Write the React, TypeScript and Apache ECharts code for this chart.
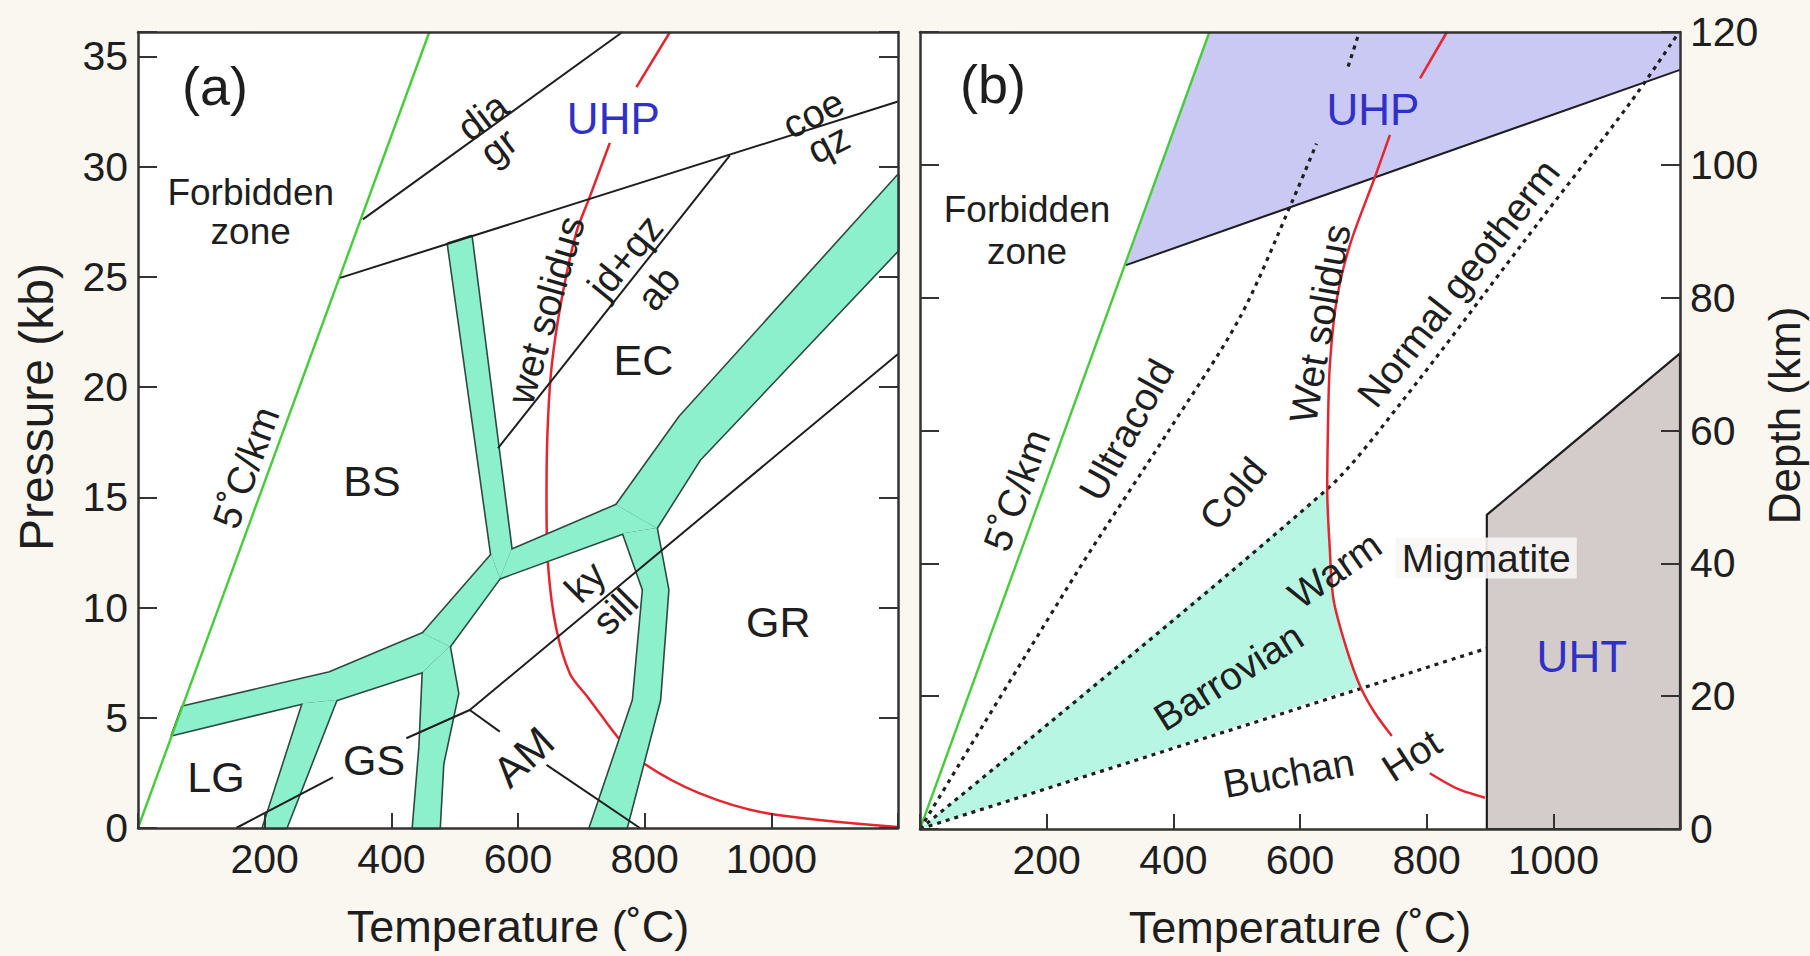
import React, { useEffect, useRef } from "react";
import * as echarts from "echarts";

const FONT = "'Liberation Sans', Arial, Helvetica, sans-serif";

// ---------------- axes ----------------
const temperatureMin = 0;
const temperatureMax = 1200;
const temperatureStep = 200;
const pressureMin = 0;
const pressureMax = 36.1;
const pressureStep = 5;
const depthMin = 0;
const depthMax = 120;
const depthStep = 20;

// ---------------- panel (a): [T °C, P kb] ----------------
const a_fiveDegreeLine = [[0, 0], [460, 36.1]];
const a_diaGrLine = [[355, 27.6], [765, 36.1]];
const a_coeQzLine = [[319, 24.95], [1200, 32.95]];
const a_jdAbLine = [[568.5, 17.23], [934.6, 30.5]];
const a_gsLineLow = [[155, 0], [307.8, 2.3]];
const a_gsKySillLine = [[423.7, 4.07], [523.8, 5.35], [1200, 21.5]];
const a_amLineUpper = [[523.8, 5.35], [571.2, 4.37]];
const a_amLineLower = [[645, 2.86], [792.4, 0]];
const a_wetSolidusTop = [[840, 36.1], [787, 33.6]];
const a_wetSolidus = [
  [745, 31.07], [713, 28.6], [692, 27.0], [669, 24.0], [653, 20.9], [646.5, 17.9],
  [645, 14.9], [647.5, 11.9], [660, 9.1], [682, 7.0], [711, 5.9], [729, 5.2],
  [761, 4.0], [800, 2.9], [887, 1.57], [993, 0.67], [1200, 0.05],
];
// facies boundary bands (polygons)
const a_bandLG_BS = [[53.8, 4.22], [70.1, 5.5], [302.6, 7.05], [450, 8.83], [492, 8.23], [450, 7.09], [313.1, 5.81], [260.4, 5.66]];
const a_bandLG_GS = [[260.4, 5.66], [313.1, 5.81], [234.1, 0], [197.2, 0]];
const a_bandGS_AM = [[450, 7.09], [492, 8.23], [505.3, 6.1], [481.6, 2.9], [476, 0], [434.2, 0], [444.8, 3.7]];
const a_bandBS_AM = [[450, 8.83], [558, 12.39], [571.2, 11.33], [492, 8.23]];
const a_bandBS_EC = [[489.5, 26.5], [526.4, 26.83], [589.6, 12.61], [571.2, 11.33], [558, 12.39]];
const a_bandEC_AM = [[571.2, 11.33], [589.6, 12.61], [755.5, 14.65], [818.7, 13.6], [766, 13.37]];
const a_bandEC_GR = [[755.5, 14.65], [855.6, 18.66], [1200, 29.6], [1200, 26.2], [887, 16.7], [818.7, 13.6]];
const a_bandAM_GR = [[766, 13.37], [818.7, 13.6], [837, 10.8], [824, 5.8], [771.3, 0], [713.4, 0], [781.8, 5.8], [797.6, 10.8]];
const a_bands = [a_bandLG_BS, a_bandLG_GS, a_bandGS_AM, a_bandBS_AM, a_bandBS_EC, a_bandEC_AM, a_bandEC_GR, a_bandAM_GR];

// ---------------- panel (b): [T °C, depth km] ----------------
const b_fiveDegreeLine = [[0, 0], [457, 120]];
const b_uhpBoundary = [[325.3, 84.9], [1200, 114.3]];
const b_uhpField = [[325.3, 84.9], [457, 120], [1200, 120], [1200, 114.3]];
const b_uhtField = [[895, 0], [895, 47.3], [1200, 71.6], [1200, 0]];
const b_ultracoldLine = [[0, 0], [250, 39], [393, 60], [505, 77], [590, 95], [626, 103.2]];
const b_ultracoldLineTop = [[676, 114.8], [692, 119.5]];
const b_normalGeotherm = [[0, 0], [642, 51.1], [758, 64], [950, 88], [1121, 109.3], [1195, 119.5]];
const b_buchanLine = [[0, 0], [895, 27.2]];
const b_wetSolidusTop = [[832, 120], [789.5, 113]];
const b_wetSolidus = [
  [742, 104.5], [718.5, 98.2], [679, 88], [658, 79.7], [647, 69.6], [644, 59.6],
  [643, 51.1], [647, 42.3], [653, 34.5], [674, 27], [695, 21.5], [718, 17.5], [745, 14.0],
];
const b_wetSolidusLow = [[805, 8.4], [850, 6.0], [892, 4.7]];
const b_barrovianField = [[0, 0], [642, 51.1], [647, 42.3], [653, 34.5], [674, 27], [695, 21.5]];

// ---------------- text annotations ----------------
const a_labels = [
  { t: "(a)", x: 121.6, y: 33.65, kind: "letter" },
  { t: "Forbidden", x: 178, y: 28.84, kind: "forbidden" },
  { t: "zone", x: 178, y: 27.03, kind: "forbidden" },
  { t: "dia", x: 544, y: 32.26, rot: 37, kind: "note" },
  { t: "gr", x: 569, y: 30.9, rot: 37, kind: "note" },
  { t: "UHP", x: 750.5, y: 32.19, kind: "blue" },
  { t: "coe", x: 1066, y: 32.41, rot: 27, kind: "note" },
  { t: "qz", x: 1090, y: 31.05, rot: 27, kind: "note" },
  { t: "wet solidus", x: 644, y: 23.49, rot: 74, kind: "note" },
  { t: "jd+qz", x: 769, y: 25.91, rot: 51, kind: "note" },
  { t: "ab", x: 821.6, y: 24.48, rot: 51, kind: "note" },
  { t: "EC", x: 798, y: 21.22, kind: "region" },
  { t: "BS", x: 369.5, y: 15.74, kind: "region" },
  { t: "5˚C/km", x: 170.4, y: 16.35, rot: 70, kind: "note" },
  { t: "ky", x: 705.8, y: 11.17, rot: 45, kind: "note" },
  { t: "sill", x: 753.2, y: 9.81, rot: 45, kind: "note" },
  { t: "GR", x: 1011, y: 9.36, kind: "region" },
  { t: "LG", x: 123.2, y: 2.33, kind: "region" },
  { t: "GS", x: 372.7, y: 3.08, kind: "region" },
  { t: "AM", x: 608.4, y: 3.23, rot: 43, kind: "region" },
];
const b_labels = [
  { t: "(b)", x: 115.3, y: 112.2, kind: "letter" },
  { t: "Forbidden", x: 169, y: 93.2, kind: "forbidden" },
  { t: "zone", x: 169, y: 86.9, kind: "forbidden" },
  { t: "UHP", x: 715, y: 108.3, kind: "blue" },
  { t: "5˚C/km", x: 152.7, y: 51, rot: 70, kind: "note" },
  { t: "Ultracold", x: 326, y: 60.1, rot: 61, kind: "note" },
  { t: "Cold", x: 494, y: 50.5, rot: 50, kind: "note" },
  { t: "Wet solidus", x: 631.6, y: 76.1, rot: 80, kind: "note" },
  { t: "Normal geotherm", x: 850, y: 82.2, rot: 52, kind: "note" },
  { t: "Warm", x: 655, y: 39, rot: 35, kind: "note" },
  { t: "Barrovian", x: 487, y: 22.9, rot: 32, kind: "note" },
  { t: "Buchan", x: 582, y: 8.4, rot: 10, kind: "note" },
  { t: "Hot", x: 776, y: 11.1, rot: 33, kind: "note" },
  { t: "Migmatite", x: 894, y: 40.8, kind: "migmatite" },
  { t: "UHT", x: 1045, y: 25.9, kind: "blue" },
];

// ---------------- styles ----------------
const INK = "#1e1e1e";
const AXIS = "#333";
const GREEN = "#46cc3a";
const RED = "#e3262f";
const BAND = "#8cf0cd";
const BAND_EDGE = "#2d4a43";
const BARROVIAN = "#b6f6e2";
const UHP_FILL = "#c9c9f3";
const UHT_FILL = "#d4cbcb";
const BLUE = "#3030c8";
const DOTS: number[] = [4, 5];

const kindStyle: Record<string, any> = {
  letter: { fontSize: 54, fill: INK },
  forbidden: { fontSize: 37, fill: INK },
  region: { fontSize: 43, fill: INK },
  note: { fontSize: 39, fill: INK },
  blue: { fontSize: 44, fill: BLUE },
  migmatite: { fontSize: 39, fill: INK, backgroundColor: "rgba(248,245,245,0.9)", padding: [2, 6, 0, 6] },
};

function lineSeries(data: number[][], xi: number, yi: number, color: string, width: number, z: number, type: any = "solid", smooth: any = false) {
  return {
    type: "line",
    xAxisIndex: xi,
    yAxisIndex: yi,
    data,
    showSymbol: false,
    symbol: "none",
    silent: true,
    clip: false,
    smooth,
    z,
    lineStyle: { color, width, type },
  };
}

function polygonSeries(list: number[][][], xi: number, yi: number, style: any, z: number) {
  return {
    type: "custom",
    xAxisIndex: xi,
    yAxisIndex: yi,
    z,
    silent: true,
    clip: false,
    data: list.map((p, i) => [p[0][0], p[0][1], i]),
    encode: { x: 0, y: 1 },
    renderItem: (params: any, api: any) => ({
      type: "polygon",
      shape: { points: list[params.dataIndex].map((pt) => api.coord(pt)) },
      style: { ...style },
    }),
  };
}

function labelSeries(list: any[], xi: number, yi: number) {
  return {
    type: "custom",
    xAxisIndex: xi,
    yAxisIndex: yi,
    z: 30,
    silent: true,
    clip: false,
    data: list.map((l) => [l.x, l.y]),
    encode: { x: 0, y: 1 },
    renderItem: (params: any, api: any) => {
      const l = list[params.dataIndex];
      const p = api.coord([l.x, l.y]);
      const s = kindStyle[l.kind];
      return {
        type: "text",
        x: p[0],
        y: p[1],
        rotation: ((l.rot || 0) * Math.PI) / 180,
        style: {
          text: l.t,
          fontFamily: FONT,
          align: "center",
          verticalAlign: "middle",
          ...s,
        },
      };
    },
  };
}

const tickLabel = { fontSize: 41, color: INK, fontFamily: FONT, margin: 10 };

function bottomX(gi: number) {
  return {
    type: "value",
    gridIndex: gi,
    position: "bottom",
    min: temperatureMin,
    max: temperatureMax,
    interval: temperatureStep,
    z: 20,
    axisLine: { show: true, onZero: false, lineStyle: { color: AXIS, width: 2.5 } },
    axisTick: { show: true, inside: true, length: 15, lineStyle: { color: AXIS, width: 2 } },
    axisLabel: {
      ...tickLabel,
      formatter: (v: number) => (v === temperatureMin || v === temperatureMax ? "" : String(v)),
    },
    splitLine: { show: false },
    name: "Temperature (˚C)",
    nameLocation: "middle",
    nameGap: 76,
    nameTextStyle: { fontSize: 45, color: INK, fontFamily: FONT },
  };
}
function topX(gi: number) {
  return {
    type: "value",
    gridIndex: gi,
    position: "top",
    min: temperatureMin,
    max: temperatureMax,
    z: 20,
    axisLine: { show: true, onZero: false, lineStyle: { color: AXIS, width: 2.5 } },
    axisTick: { show: false },
    axisLabel: { show: false },
    splitLine: { show: false },
  };
}
function yAx(gi: number, pos: string, min: number, max: number, step: number, labels: boolean, extra: any = {}) {
  return {
    type: "value",
    gridIndex: gi,
    position: pos,
    min,
    max,
    interval: step,
    z: 20,
    axisLine: { show: true, onZero: false, lineStyle: { color: AXIS, width: 2.5 } },
    axisTick: { show: true, inside: true, length: 19, lineStyle: { color: AXIS, width: 2 } },
    axisLabel: {
      show: labels,
      ...tickLabel,
      formatter: (v: number) => (Math.abs(v / step - Math.round(v / step)) < 1e-6 ? String(v) : ""),
    },
    splitLine: { show: false },
    ...extra,
  };
}

export default function App() {
  const ref = useRef<HTMLDivElement>(null);
  useEffect(() => {
    document.body.style.margin = "0";
    document.body.style.background = "#faf6f0";
    const chart = echarts.init(ref.current as HTMLDivElement, null, { renderer: "svg" });
    const bandStroke = { fill: BAND, stroke: BAND_EDGE, lineWidth: 3.2, lineJoin: "round" };
    const bandFill = { fill: BAND, stroke: "none", lineWidth: 0 };
    const option: any = {
      animation: false,
      backgroundColor: "#faf6f0",
      grid: [
        { left: 138, top: 32, width: 760, height: 796, show: true, backgroundColor: "#ffffff", borderWidth: 0 },
        { left: 920, top: 32, width: 760, height: 797, show: true, backgroundColor: "#ffffff", borderWidth: 0 },
      ],
      xAxis: [bottomX(0), topX(0), bottomX(1), topX(1)],
      yAxis: [
        yAx(0, "left", pressureMin, pressureMax, pressureStep, true, {
          name: "Pressure (kb)",
          nameLocation: "middle",
          nameGap: 78,
          nameRotate: 90,
          nameTextStyle: { fontSize: 48, color: INK, fontFamily: FONT, padding: [0, 0, 0, 46] },
        }),
        yAx(0, "right", pressureMin, pressureMax, pressureStep, false),
        yAx(1, "left", depthMin, depthMax, depthStep, false),
        yAx(1, "right", depthMin, depthMax, depthStep, true, {
          name: "Depth (km)",
          nameLocation: "middle",
          nameGap: 64,
          nameRotate: 90,
          nameTextStyle: { fontSize: 44, color: INK, fontFamily: FONT, padding: [0, 0, 0, 30] },
        }),
      ],
      series: [
        // ----- panel (a)
        lineSeries(a_wetSolidusTop, 0, 0, RED, 2.5, 3),
        lineSeries(a_wetSolidus, 0, 0, RED, 2.5, 3, "solid", 0.3),
        polygonSeries(a_bands, 0, 0, bandStroke, 4),
        polygonSeries(a_bands, 0, 0, bandFill, 5),
        lineSeries(a_fiveDegreeLine, 0, 0, GREEN, 2.4, 6),
        lineSeries(a_diaGrLine, 0, 0, INK, 2, 6),
        lineSeries(a_coeQzLine, 0, 0, INK, 2, 6),
        lineSeries(a_jdAbLine, 0, 0, INK, 2, 6),
        lineSeries(a_gsLineLow, 0, 0, INK, 2, 6),
        lineSeries(a_gsKySillLine, 0, 0, INK, 2, 6),
        lineSeries(a_amLineUpper, 0, 0, INK, 2, 6),
        lineSeries(a_amLineLower, 0, 0, INK, 2, 6),
        labelSeries(a_labels, 0, 0),
        // ----- panel (b)
        polygonSeries([b_uhpField], 2, 2, { fill: UHP_FILL, stroke: "none" }, 2),
        polygonSeries([b_barrovianField], 2, 2, { fill: BARROVIAN, stroke: "none" }, 2),
        polygonSeries([b_uhtField], 2, 2, { fill: UHT_FILL, stroke: INK, lineWidth: 2.2 }, 3),
        lineSeries(b_fiveDegreeLine, 2, 2, GREEN, 2.4, 6),
        lineSeries(b_uhpBoundary, 2, 2, INK, 2, 6),
        lineSeries(b_ultracoldLine, 2, 2, INK, 3.2, 6, DOTS, 0.3),
        lineSeries(b_ultracoldLineTop, 2, 2, INK, 3.2, 6, DOTS),
        lineSeries(b_normalGeotherm, 2, 2, INK, 3.2, 6, DOTS, 0.3),
        lineSeries(b_buchanLine, 2, 2, INK, 3.2, 6, DOTS),
        lineSeries(b_wetSolidusTop, 2, 2, RED, 2.5, 7),
        lineSeries(b_wetSolidus, 2, 2, RED, 2.5, 7, "solid", 0.3),
        lineSeries(b_wetSolidusLow, 2, 2, RED, 2.5, 7, "solid", 0.3),
        labelSeries(b_labels, 2, 2),
      ],
    };
    chart.setOption(option);
    return () => chart.dispose();
  }, []);
  return (
    <div
      ref={ref}
      style={{ position: "absolute", left: 0, top: 0, width: 1810, height: 956 }}
    />
  );
}
